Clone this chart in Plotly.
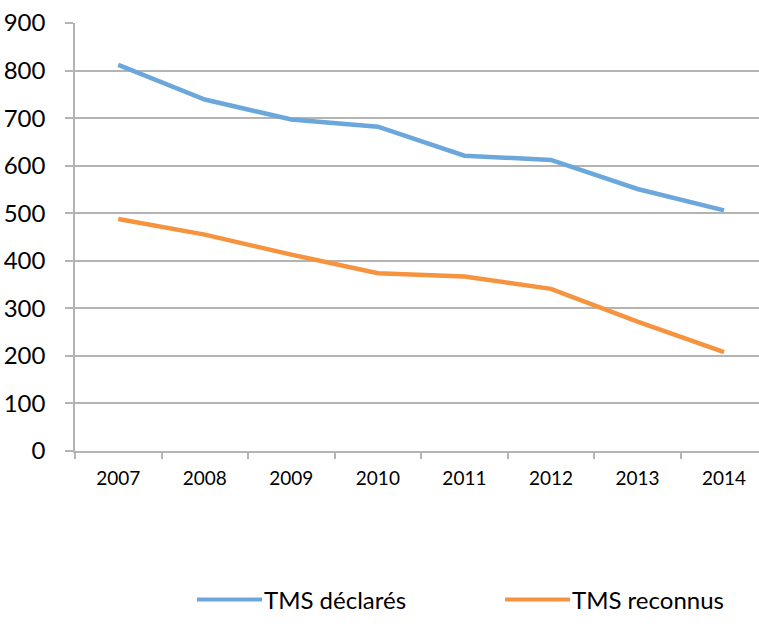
import plotly.graph_objects as go

# Annual counts of musculoskeletal disorders (TMS)
years = ["2007", "2008", "2009", "2010", "2011", "2012", "2013", "2014"]
tms_declares = [812, 739, 697, 682, 621, 612, 551, 506]
tms_reconnus = [488, 455, 413, 374, 367, 341, 272, 208]
series_names = ["TMS déclarés", "TMS reconnus"]
series_colors = ["#6BA7DB", "#F5933F"]
y_ticks = [0, 100, 200, 300, 400, 500, 600, 700, 800, 900]

FONT = "Lato, 'Open Sans', sans-serif"
GRID = "#B4B4B4"

fig = go.Figure()
for name, vals, col in zip(series_names, [tms_declares, tms_reconnus], series_colors):
    fig.add_trace(go.Scatter(
        x=years, y=vals, name=name, mode="lines",
        line=dict(color=col, width=4.5), showlegend=False,
    ))

fig.update_layout(
    width=759, height=637,
    margin=dict(l=75, r=0, t=23, b=186),
    paper_bgcolor="white", plot_bgcolor="white",
    font=dict(family=FONT, color="#000000"),
)

fig.update_xaxes(
    type="category", range=[-0.5, 7.404],
    tickson="boundaries", ticks="outside", ticklen=6, tickcolor=GRID, tickwidth=1.5,
    showline=True, linecolor=GRID, linewidth=1.5,
    showgrid=False, zeroline=False,
    tickfont=dict(size=19), ticklabelstandoff=9,
)
fig.update_yaxes(
    range=[0, 900], tickvals=y_ticks,
    ticks="outside", ticklen=8, tickcolor=GRID, tickwidth=1.5,
    showline=True, linecolor=GRID, linewidth=1.5,
    showgrid=True, gridcolor=GRID, gridwidth=1.5, zeroline=False,
    tickfont=dict(size=24), ticklabelstandoff=15,
)

# Legend below the chart: a short line followed by its label
legend_y = -0.347
legend_x0 = [197, 505]
line_len = 65
plot_left, plot_w = 75, 684
for x0, name, col in zip(legend_x0, series_names, series_colors):
    xa = (x0 - plot_left) / plot_w
    xb = (x0 + line_len - plot_left) / plot_w
    fig.add_shape(type="line", xref="paper", yref="paper",
                  x0=xa, x1=xb, y0=legend_y, y1=legend_y,
                  line=dict(color=col, width=4))
    fig.add_annotation(xref="paper", yref="paper", x=xb, y=legend_y,
                       text=name, showarrow=False, xanchor="left", yanchor="middle",
                       font=dict(size=24, family=FONT, color="#000000"))

fig.write_html("out.html")
